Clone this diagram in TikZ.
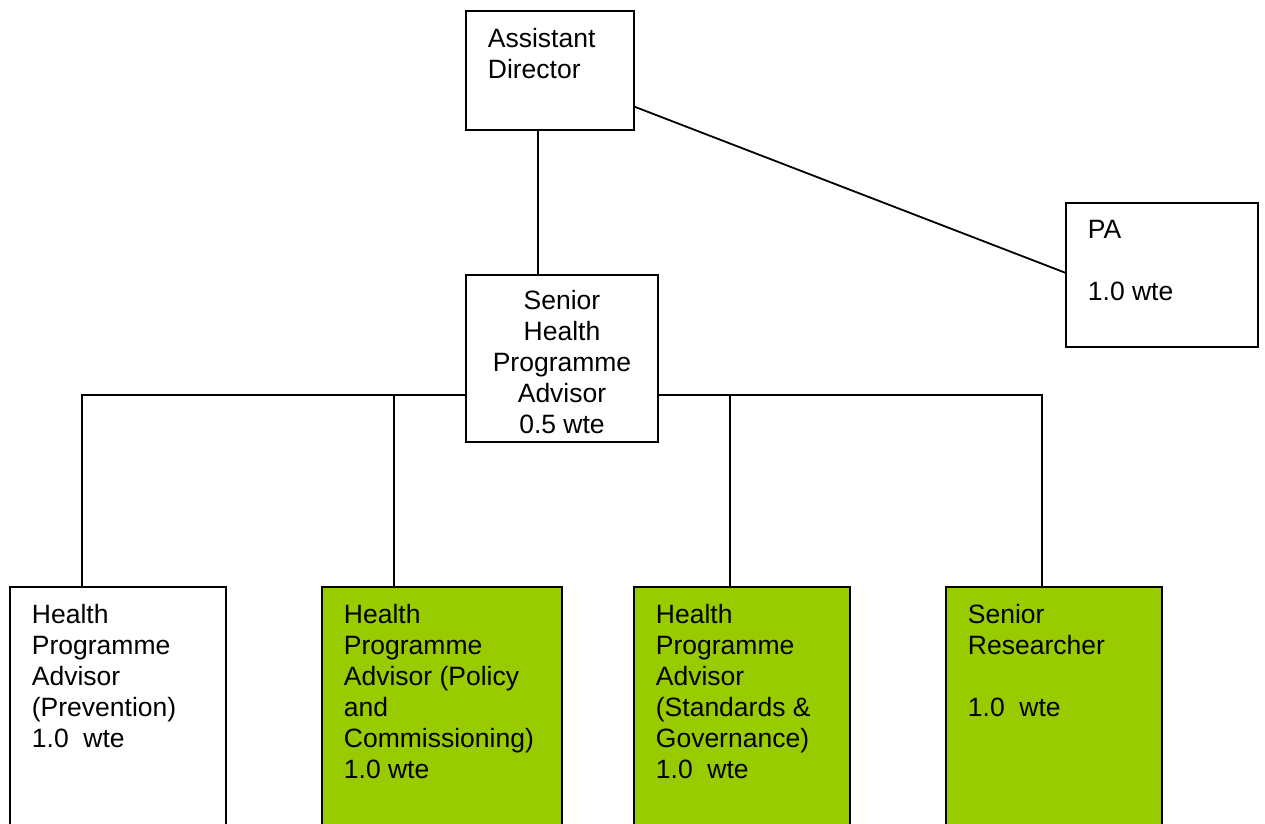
\documentclass[tikz,border=0pt]{standalone}
\usepackage{fontspec}
\setmainfont{Liberation Sans}
\usetikzlibrary{positioning}
\definecolor{leaf}{HTML}{99CC00}
\begin{document}
\begin{tikzpicture}[x=1pt, y=-1pt, line width=1.8pt,
		post/.style={draw, black, rectangle, inner sep=0pt, outer sep=0pt, anchor=north west},
		newpost/.style={post, fill=leaf},
		lbl/.style={inner sep=0pt, align=left, anchor=north west, text=black,
			font=\fontsize{26.5}{31}\selectfont}]
	\useasboundingbox (0,0) rectangle (1265,823);
	% posts
	\node[post, minimum width=168, minimum height=119] (ad) at (466,11) {};
	\node[post, minimum width=192, minimum height=144] (pa) at (1066,203) {};
	\node[post, minimum width=192, minimum height=167] (shpa) at (466,275) {};
	\node[post, minimum width=216, minimum height=260] (hpaprev) at (10,587) {};
	\node[newpost, minimum width=240, minimum height=260] (hpapol) at (322,587) {};
	\node[newpost, minimum width=216, minimum height=260] (hpastd) at (634,587) {};
	\node[newpost, minimum width=216, minimum height=260] (sres) at (946,587) {};
	% texts
	\node[lbl] (adtxt) at ([shift={(21,16)}]ad.north west) {Assistant\\Director};
	\node[lbl] (patxt) at ([shift={(21,16)}]pa.north west) {PA\\[31pt]1.0 wte};
	\node[lbl, align=center, anchor=north] (shpatxt) at ([shift={(0,14)}]shpa.north)
		{Senior\\Health\\Programme\\Advisor\\0.5 wte};
	\node[lbl] (prevtxt) at ([shift={(21,16)}]hpaprev.north west)
		{Health\\Programme\\Advisor\\(Prevention)\\1.0~~wte};
	\node[lbl] (poltxt) at ([shift={(21,16)}]hpapol.north west)
		{Health\\Programme\\Advisor (Policy\\and\\Commissioning)\\1.0 wte};
	\node[lbl] (stdtxt) at ([shift={(21,16)}]hpastd.north west)
		{Health\\Programme\\Advisor\\(Standards \&\\Governance)\\1.0~~wte};
	\node[lbl] (srestxt) at ([shift={(21,16)}]sres.north west)
		{Senior\\Researcher\\[31pt]1.0~~wte};
	% links
	\coordinate (j1) at (82,395);
	\coordinate (j2) at (394,395);
	\coordinate (j3) at (730,395);
	\coordinate (j4) at (1042,395);
	\draw ([xshift=-12]ad.south) -- ([xshift=-12]ad.south |- shpa.north);
	\draw ([yshift=-36]ad.east) -- ([yshift=2]pa.west);
	\draw (shpa.west |- j1) -- (j1) -- (j1 |- hpaprev.north);
	\draw (j2) -- (j2 |- hpapol.north);
	\draw (shpa.east |- j4) -- (j4) -- (j4 |- sres.north);
	\draw (j3) -- (j3 |- hpastd.north);
\end{tikzpicture}
\end{document}
